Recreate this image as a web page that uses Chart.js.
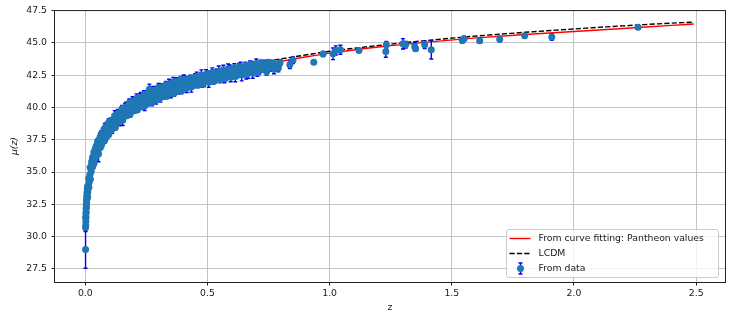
<!DOCTYPE html>
<html>
<head>
<meta charset="utf-8">
<script src="https://cdn.jsdelivr.net/npm/chart.js@4.4.1/dist/chart.umd.min.js"></script>
<style>
  html, body { margin: 0; padding: 0; background: #fff; }
  canvas { display: block; }
</style>
</head>
<body>
<canvas id="chart" width="731" height="320"></canvas>
<script>
// axis ticks
const xTicks = [0, 0.5, 1, 1.5, 2, 2.5];
const yTicks = [27.5, 30, 32.5, 35, 37.5, 40, 42.5, 45, 47.5];

// model curves
const curveZ = [0.01, 0.02, 0.03, 0.05, 0.07, 0.1, 0.15, 0.2, 0.25, 0.3, 0.4, 0.5, 0.6,
                0.7, 0.8, 0.9, 1.0, 1.2, 1.4, 1.6, 1.8, 2.0, 2.2, 2.4, 2.49];
const fitMu = [33.38, 34.9, 35.8, 36.96, 37.71, 38.5, 39.42, 40.1, 40.63, 41.07, 41.78, 42.34, 42.81,
               43.2, 43.56, 43.9, 44.2, 44.67, 45.05, 45.38, 45.64, 45.87, 46.1, 46.35, 46.45];
const lcdmMu = [33.39, 34.92, 35.82, 36.99, 37.75, 38.55, 39.5, 40.2, 40.75, 41.21, 41.94, 42.52, 43.0,
                43.4, 43.75, 44.05, 44.34, 44.79, 45.18, 45.52, 45.81, 46.07, 46.31, 46.52, 46.6];

// supernova data: redshift, distance modulus, error
const dataZ = [
  0.0010, 0.0012, 0.0015, 0.0019, 0.0022, 0.0026, 0.0029, 0.0033, 0.0037, 0.0041,
  0.0045, 0.0050, 0.0054, 0.0059, 0.0064, 0.0069, 0.0075, 0.0081, 0.0087, 0.0094,
  0.0095, 0.0102, 0.0110, 0.0140, 0.0148, 0.0158, 0.0190, 0.0198, 0.0208,
  0.0242, 0.0250, 0.0258, 0.0292, 0.0300, 0.0310, 0.0342, 0.0350, 0.0358,
  0.0392, 0.0400, 0.0410, 0.0442, 0.0450, 0.0458, 0.0492, 0.0500, 0.0508,
  0.0542, 0.0550, 0.0558, 0.0592, 0.0600, 0.0610, 0.0642, 0.0650, 0.0658,
  0.0692, 0.0700, 0.0710, 0.0742, 0.0750, 0.0758, 0.0792, 0.0800, 0.0808,
  0.0842, 0.0850, 0.0858, 0.0892, 0.0900, 0.0910, 0.0942, 0.0950, 0.0958,
  0.0992, 0.1000, 0.1010, 0.0540,
  0.107, 0.110, 0.113, 0.117, 0.120, 0.123, 0.127, 0.130, 0.133,
  0.137, 0.140, 0.143, 0.147, 0.150, 0.153, 0.157, 0.160, 0.163,
  0.167, 0.170, 0.173, 0.177, 0.180, 0.183, 0.187, 0.190, 0.193,
  0.197, 0.200, 0.203, 0.207, 0.210, 0.213, 0.217, 0.220, 0.223,
  0.227, 0.230, 0.233, 0.237, 0.240, 0.243, 0.247, 0.250, 0.253,
  0.257, 0.260, 0.263, 0.267, 0.270, 0.273, 0.277, 0.280, 0.283,
  0.287, 0.290, 0.293, 0.297, 0.300, 0.303, 0.307, 0.310, 0.313,
  0.317, 0.320, 0.323, 0.327, 0.330, 0.333, 0.337, 0.340, 0.343,
  0.347, 0.350, 0.353, 0.357, 0.360, 0.363, 0.367, 0.370, 0.373,
  0.377, 0.380, 0.383, 0.387, 0.390, 0.393, 0.397, 0.400, 0.403,
  0.262,
  0.411, 0.415, 0.419, 0.426, 0.430, 0.434, 0.441, 0.445, 0.449,
  0.456, 0.460, 0.464, 0.471, 0.475, 0.479, 0.486, 0.490, 0.494,
  0.501, 0.505, 0.509, 0.516, 0.520, 0.524, 0.531, 0.535, 0.539,
  0.546, 0.550, 0.554, 0.561, 0.565, 0.569, 0.576, 0.580, 0.584,
  0.591, 0.595, 0.599, 0.606, 0.610, 0.614, 0.621, 0.625, 0.629,
  0.636, 0.640, 0.644, 0.651, 0.655, 0.659, 0.666, 0.670, 0.674,
  0.681, 0.685, 0.689, 0.696, 0.700, 0.704, 0.711, 0.715, 0.719,
  0.728, 0.735, 0.742, 0.748, 0.756, 0.763, 0.772, 0.781, 0.790, 0.797, 0.837,
  0.850, 0.935, 0.973, 1.014, 1.025, 1.044, 1.120, 1.232, 1.230, 1.300, 1.311,
  1.348, 1.352, 1.389, 1.416, 1.543, 1.550, 1.614, 1.696, 1.798, 1.909, 2.262
];
const dataMu = [
  29.0, 30.7, 31.5, 30.9, 31.2, 31.8, 31.5, 32.2, 31.9, 32.5,
  32.3, 32.8, 32.6, 33.1, 32.9, 33.4, 33.2, 33.7, 33.5, 33.9,
  33.05, 33.45, 33.8, 34.5, 33.8, 34.2, 34.8, 35.35, 34.45,
  35.05, 35.45, 35.8, 36.1, 35.4, 35.8, 36.0, 36.55, 35.65,
  36.05, 36.45, 36.8, 36.95, 36.25, 36.65, 36.8, 37.35, 36.45,
  36.75, 37.15, 37.5, 37.6, 36.9, 37.3, 37.4, 37.95, 37.05,
  37.3, 37.7, 38.05, 38.1, 37.4, 37.8, 37.85, 38.4, 37.5,
  37.75, 38.15, 38.5, 38.5, 37.8, 38.2, 38.25, 38.8, 37.9,
  38.1, 38.5, 38.85, 36.4,
  39.0, 38.3, 38.7, 38.8, 39.35, 38.45, 38.75, 39.15, 39.5,
  39.58, 38.88, 39.28, 39.35, 39.9, 39.0, 39.25, 39.65, 40.0,
  40.05, 39.35, 39.75, 39.8, 40.35, 39.45, 39.68, 40.08, 40.43,
  40.45, 39.75, 40.15, 40.15, 40.7, 39.8, 40.0, 40.4, 40.75,
  40.75, 40.05, 40.45, 40.45, 41.0, 40.1, 40.3, 40.7, 41.05,
  41.05, 40.35, 40.75, 40.73, 41.28, 40.38, 40.57, 40.97, 41.32,
  41.3, 40.6, 41.0, 41.0, 41.55, 40.65, 40.82, 41.22, 41.57,
  41.54, 40.84, 41.24, 41.21, 41.76, 40.86, 41.03, 41.43, 41.78,
  41.75, 41.05, 41.45, 41.42, 41.97, 41.07, 41.23, 41.63, 41.98,
  41.94, 41.24, 41.64, 41.6, 42.15, 41.25, 41.41, 41.81, 42.16,
  41.4,
  42.15, 41.5, 41.85, 41.83, 42.28, 41.58, 41.7, 42.05, 42.35,
  42.38, 41.73, 42.08, 42.05, 42.5, 41.8, 41.92, 42.27, 42.57,
  42.6, 41.95, 42.3, 42.26, 42.71, 42.01, 42.13, 42.48, 42.78,
  42.8, 42.15, 42.5, 42.46, 42.91, 42.21, 42.32, 42.67, 42.97,
  42.98, 42.33, 42.68, 42.64, 43.09, 42.39, 42.5, 42.85, 43.15,
  43.15, 42.5, 42.85, 42.8, 43.25, 42.55, 42.65, 43.0, 43.3,
  43.3, 42.65, 43.0, 42.95, 43.4, 42.7, 42.8, 43.15, 43.45,
  42.95, 43.35, 42.75, 43.5, 43.1, 43.4, 42.95, 43.3, 43.05, 43.45, 43.3,
  43.65, 43.5, 44.13, 44.15, 44.41, 44.46, 44.41, 44.85, 44.33, 44.92, 44.85,
  44.72, 44.54, 44.85, 44.46, 45.18, 45.31, 45.16, 45.28, 45.54, 45.44, 46.21
];
const dataErr = [
  1.45, 0.3, 0.25, 0.25, 0.2, 0.2, 0.2, 0.2, 0.2, 0.15,
  0.15, 0.15, 0.15, 0.15, 0.15, 0.15, 0.15, 0.15, 0.15, 0.15,
  0.15, 0.12, 0.18, 0.2, 0.15, 0.12, 0.18, 0.25, 0.15,
  0.2, 0.15, 0.3, 0.25, 0.18, 0.15, 0.2, 0.3, 0.15,
  0.18, 0.22, 0.35, 0.2, 0.15, 0.25, 0.3, 0.2, 0.18,
  0.22, 0.15, 0.3, 0.35, 0.2, 0.18, 0.2, 0.25, 0.3,
  0.15, 0.2, 0.35, 0.3, 0.2, 0.15, 0.18, 0.35, 0.25,
  0.22, 0.18, 0.3, 0.35, 0.2, 0.18, 0.25, 0.3, 0.2,
  0.2, 0.15, 0.3, 0.6,
  0.2, 0.3, 0.15, 0.25, 0.4, 0.18, 0.22, 0.15, 0.35,
  0.18, 0.3, 0.2, 0.15, 0.25, 0.4, 0.2, 0.18, 0.3,
  0.35, 0.2, 0.15, 0.25, 0.3, 0.2, 0.15, 0.22, 0.4,
  0.3, 0.18, 0.2, 0.25, 0.35, 0.15, 0.2, 0.25, 0.3,
  0.4, 0.2, 0.18, 0.22, 0.3, 0.35, 0.15, 0.2, 0.25,
  0.3, 0.22, 0.18, 0.2, 0.35, 0.25, 0.2, 0.18, 0.3,
  0.25, 0.35, 0.2, 0.18, 0.3, 0.22, 0.4, 0.2, 0.25,
  0.3, 0.2, 0.35, 0.22, 0.25, 0.18, 0.3, 0.2, 0.4,
  0.25, 0.3, 0.18, 0.2, 0.35, 0.22, 0.18, 0.25, 0.3,
  0.35, 0.2, 0.22, 0.3, 0.25, 0.18, 0.2, 0.3, 0.35,
  0.4,
  0.25, 0.35, 0.2, 0.3, 0.22, 0.4, 0.2, 0.3, 0.25,
  0.35, 0.22, 0.3, 0.2, 0.4, 0.25, 0.3, 0.2, 0.35,
  0.22, 0.4, 0.25, 0.3, 0.35, 0.2, 0.25, 0.3, 0.22,
  0.4, 0.25, 0.3, 0.2, 0.35, 0.3, 0.25, 0.22, 0.4,
  0.3, 0.35, 0.2, 0.25, 0.3, 0.4, 0.22, 0.3, 0.25,
  0.35, 0.45, 0.2, 0.3, 0.25, 0.35, 0.4, 0.22, 0.3,
  0.25, 0.4, 0.3, 0.22, 0.35, 0.3, 0.25, 0.3, 0.2,
  0.2, 0.3, 0.25, 0.2, 0.3, 0.25, 0.35, 0.2, 0.3, 0.25, 0.3,
  0.25, 0.15, 0.2, 0.45, 0.35, 0.35, 0.15, 0.25, 0.45, 0.4, 0.25,
  0.3, 0.2, 0.3, 0.72, 0.2, 0.2, 0.2, 0.2, 0.15, 0.25, 0.15
];

const FONT = "'DejaVu Sans', sans-serif";
Chart.defaults.font.family = FONT;
Chart.defaults.font.size = 9.3;
Chart.defaults.color = '#1a1a1a';

// vertical error bars with caps, drawn just under the data markers
const errorBars = {
  id: 'errorBars',
  beforeDatasetDraw(chart, args) {
    if (args.index !== 2) return;
    const {ctx, chartArea, scales: {x, y}} = chart;
    ctx.save();
    ctx.beginPath();
    ctx.rect(chartArea.left, chartArea.top, chartArea.width, chartArea.height);
    ctx.clip();
    ctx.strokeStyle = '#0000ff';
    ctx.lineWidth = 1.4;
    ctx.beginPath();
    for (let i = 0; i < dataZ.length; i++) {
      const px = x.getPixelForValue(dataZ[i]);
      const top = y.getPixelForValue(dataMu[i] + dataErr[i]);
      const bot = y.getPixelForValue(dataMu[i] - dataErr[i]);
      ctx.moveTo(px, top); ctx.lineTo(px, bot);
      ctx.moveTo(px - 2, top); ctx.lineTo(px + 2, top);
      ctx.moveTo(px - 2, bot); ctx.lineTo(px + 2, bot);
    }
    ctx.stroke();
    ctx.restore();
  }
};

// box round the plot area, like matplotlib spines
const frame = {
  id: 'frame',
  afterDatasetsDraw(chart) {
    const {ctx, chartArea: a} = chart;
    ctx.save();
    ctx.strokeStyle = '#222';
    ctx.lineWidth = 1;
    ctx.strokeRect(a.left - 0.5, a.top + 0.5, a.width + 1, a.height);
    ctx.restore();
  }
};

// legend box in the lower right corner
const legendBox = {
  id: 'legendBox',
  afterDraw(chart) {
    const {ctx, chartArea: a} = chart;
    const w = 212, h = 48;
    const left = a.right - 6.5 - w, top = a.bottom - 4.5 - h;
    ctx.save();
    ctx.beginPath();
    ctx.roundRect(left, top, w, h, 2.5);
    ctx.fillStyle = 'rgba(255,255,255,0.8)';
    ctx.fill();
    ctx.strokeStyle = '#cccccc';
    ctx.lineWidth = 1;
    ctx.stroke();

    const rows = [top + 9, top + 24, top + 39];
    // red line
    ctx.lineWidth = 1.4;
    ctx.strokeStyle = '#ff0000';
    ctx.beginPath(); ctx.moveTo(left + 3, rows[0]); ctx.lineTo(left + 24, rows[0]); ctx.stroke();
    // dashed LCDM
    ctx.strokeStyle = '#000';
    ctx.setLineDash([5.2, 2.2]);
    ctx.beginPath(); ctx.moveTo(left + 3, rows[1]); ctx.lineTo(left + 24, rows[1]); ctx.stroke();
    ctx.setLineDash([]);
    // errorbar marker
    const mx = left + 14;
    ctx.strokeStyle = '#0000ff';
    ctx.beginPath();
    ctx.moveTo(mx, rows[2] - 5.5); ctx.lineTo(mx, rows[2] + 5.5);
    ctx.moveTo(mx - 2, rows[2] - 5.5); ctx.lineTo(mx + 2, rows[2] - 5.5);
    ctx.moveTo(mx - 2, rows[2] + 5.5); ctx.lineTo(mx + 2, rows[2] + 5.5);
    ctx.stroke();
    ctx.fillStyle = '#1f77b4';
    ctx.beginPath(); ctx.arc(mx, rows[2], 3.5, 0, Math.PI * 2); ctx.fill();

    ctx.fillStyle = '#1a1a1a';
    ctx.font = '9.3px ' + FONT;
    ctx.textBaseline = 'middle';
    ctx.fillText('From curve fitting: Pantheon values', left + 32, rows[0]);
    ctx.fillText('LCDM', left + 32, rows[1]);
    ctx.fillText('From data', left + 32, rows[2]);
    ctx.restore();
  }
};

const gridOpts = {color: '#c4c4c4', lineWidth: 1, tickColor: '#222', tickLength: 3.5, tickWidth: 1};

new Chart(document.getElementById('chart'), {
  type: 'scatter',
  data: {
    datasets: [{
      label: 'From curve fitting: Pantheon values',
      data: curveZ.map((z, i) => ({x: z, y: fitMu[i]})),
      showLine: true,
      borderColor: '#ff0000',
      borderWidth: 1.4,
      pointRadius: 0,
      cubicInterpolationMode: 'monotone',
      order: 1
    }, {
      label: 'LCDM',
      data: curveZ.map((z, i) => ({x: z, y: lcdmMu[i]})),
      showLine: true,
      borderColor: '#000',
      borderWidth: 1.4,
      borderDash: [5.2, 2.2],
      pointRadius: 0,
      cubicInterpolationMode: 'monotone',
      order: 2
    }, {
      label: 'From data',
      data: dataZ.map((z, i) => ({x: z, y: dataMu[i]})),
      pointRadius: 3.5,
      pointBackgroundColor: '#1f77b4',
      pointBorderWidth: 0,
      order: 0
    }]
  },
  options: {
    responsive: false,
    animation: false,
    events: [],
    layout: {padding: {top: 10, right: 6, left: 0, bottom: 0}},
    plugins: {legend: {display: false}, tooltip: {enabled: false}},
    scales: {
      x: {
        type: 'linear',
        min: -0.124,
        max: 2.618,
        afterBuildTicks: s => { s.ticks = xTicks.map(v => ({value: v})); },
        afterFit: s => { s.height = 38; },
        ticks: {callback: v => v.toFixed(1), padding: 3, maxRotation: 0, autoSkip: false},
        grid: gridOpts,
        border: {display: false},
        title: {display: true, text: 'z', padding: {top: 0, bottom: 7}}
      },
      y: {
        type: 'linear',
        min: 26.49,
        max: 47.53,
        afterBuildTicks: s => { s.ticks = yTicks.map(v => ({value: v})); },
        afterFit: s => { s.width = 55; },
        ticks: {callback: v => v.toFixed(1), padding: 4.5, autoSkip: false},
        grid: gridOpts,
        border: {display: false},
        title: {display: true, text: 'μ(z)', font: {style: 'italic'}, padding: {top: 9, bottom: 0}}
      }
    }
  },
  plugins: [errorBars, frame, legendBox]
});
</script>
</body>
</html>
